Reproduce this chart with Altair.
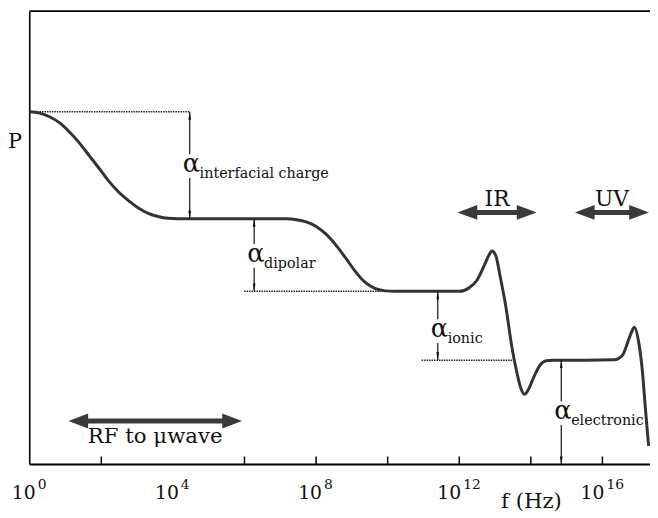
import altair as alt
import pandas as pd

# ---------------- data ----------------
# polarisation curve: log10(frequency / Hz) and P (arbitrary units, 0..100)
curve_logf = [0.0, 0.276, 0.552, 0.828, 1.104, 1.380, 1.656, 1.932, 2.208, 2.483,
              2.759, 3.035, 3.311, 3.587, 3.863, 4.139, 5.5, 7.174,
              7.450, 7.726, 8.002, 8.278, 8.554, 8.830, 9.106, 9.382, 9.658, 9.934,
              10.21, 11.0, 12.003, 12.279, 12.500, 12.693, 12.831, 12.914, 13.024,
              13.135, 13.300, 13.466, 13.604, 13.714, 13.825, 13.935, 14.101, 14.266,
              14.432, 14.625, 15.5, 16.33, 16.56, 16.74, 16.83, 16.89, 17.01, 17.11,
              17.20, 17.29]
curve_P = [77.8, 77.5, 76.7, 75.4, 73.4, 71.0, 68.2, 65.4, 62.5, 60.1,
           58.2, 56.6, 55.4, 54.7, 54.3, 54.2, 54.2, 54.2,
           54.0, 53.5, 52.5, 50.8, 48.4, 45.5, 42.5, 40.1, 38.8, 38.3,
           38.2, 38.2, 38.2, 39.0, 40.7, 43.8, 46.2, 47.1, 46.0,
           41.8, 34.9, 26.1, 20.5, 17.0, 15.5, 16.6, 19.6, 22.0,
           22.9, 23.0, 23.0, 23.1, 24.1, 27.7, 29.5, 30.3, 27.1, 21.1,
           12.4, 4.1]

# polarisability contributions (vertical double arrows)
alpha_names = ["interfacial charge", "dipolar", "ionic", "electronic"]
alpha_logf = [4.47, 6.27, 11.40, 14.85]
alpha_top = [77.8, 54.2, 38.2, 23.0]
alpha_bottom = [54.2, 38.2, 23.0, 0.0]
alpha_label_P = [64.5, 44.7, 28.1, 10.0]

# dotted reference levels
dotted_start = [0.0, 5.99, 10.95]
dotted_end = [4.47, 9.80, 13.52]
dotted_P = [77.8, 38.2, 23.0]

# frequency bands (thick double arrows)
band_names = ["RF to \u03bcwave", "IR", "UV"]
band_lo = [1.08, 11.95, 15.23]
band_hi = [5.93, 14.16, 17.30]
band_P = [9.6, 55.6, 55.6]
band_text_pos = ["below", "above", "above"]

# axis ticks and labels
tick_logf = [2, 6, 8, 10, 12, 14, 16]
label_exp = [0, 4, 8, 12, 16]

# ---------------- tables ----------------
curve = pd.DataFrame({"f": [10 ** v for v in curve_logf], "P": curve_P})
alphas = pd.DataFrame({
    "name": alpha_names,
    "f": [10 ** v for v in alpha_logf],
    "top": alpha_top, "bottom": alpha_bottom, "lab": alpha_label_P,
    "alpha": ["\u03b1"] * len(alpha_names),
})
dotted = pd.DataFrame({"f1": [10 ** v for v in dotted_start],
                       "f2": [10 ** v for v in dotted_end], "P": dotted_P})
bands = pd.DataFrame({"name": band_names,
                      "f1": [10 ** v for v in band_lo],
                      "f2": [10 ** v for v in band_hi],
                      "fm": [10 ** ((a + b) / 2) for a, b in zip(band_lo, band_hi)],
                      "P": band_P, "pos": band_text_pos})
ticks = pd.DataFrame({"f": [10 ** v for v in tick_logf]})
labels = pd.DataFrame({"f": [10 ** v for v in label_exp],
                       "base": ["10"] * len(label_exp),
                       "exp": [str(v) for v in label_exp],
                       "nd": [len(str(v)) for v in label_exp]})
dummy = pd.DataFrame({"a": [0]})

# ---------------- styling ----------------
W, H = 628, 459
FONT = "DejaVu Serif"
INK = "#111111"
CURVE = "#333333"
BAND = "#3a3a3a"

xs = alt.Scale(type="log", domain=[1, 10 ** (W / 36.24)], nice=False, zero=False)
ys = alt.Scale(domain=[0, 100], nice=False, zero=False)


def X(field):
    return alt.X(f"{field}:Q", scale=xs, axis=None)


def Y(field):
    return alt.Y(f"{field}:Q", scale=ys, axis=None)


HEAD_UP = "M0,0L0.35,2L-0.35,2Z"
HEAD_DOWN = "M0,0L0.35,-2L-0.35,-2Z"
HEAD_LEFT = "M0,0L2,-0.75L2,0.75Z"
HEAD_RIGHT = "M0,0L-2,-0.75L-2,0.75Z"

layers = []

# frame: top, left, bottom
layers.append(alt.Chart(dummy).mark_rule(color="black", strokeWidth=1.6).encode(
    x=alt.value(0), x2=alt.value(W), y=alt.value(0)))
layers.append(alt.Chart(dummy).mark_rule(color="black", strokeWidth=1.6).encode(
    x=alt.value(0), y=alt.value(0), y2=alt.value(H)))
layers.append(alt.Chart(dummy).mark_rule(color="black", strokeWidth=1.8).encode(
    x=alt.value(0), x2=alt.value(W), y=alt.value(H)))

# ticks (inward)
layers.append(alt.Chart(ticks).mark_rule(color="black", strokeWidth=1.5).encode(
    x=X("f"), y=alt.value(H), y2=alt.value(H - 8)))

# tick labels: 10 with superscript exponent
one = alt.Chart(labels).transform_filter("datum.nd == 1")
two = alt.Chart(labels).transform_filter("datum.nd == 2")
for base_chart, dx_base, dx_exp in [(one, 6, 8), (two, 2, 4)]:
    layers.append(base_chart.mark_text(font=FONT, fontSize=19, color=INK, align="right",
                                       baseline="alphabetic", dx=dx_base).encode(
        x=X("f"), y=alt.value(H + 35), text="base:N"))
    layers.append(base_chart.mark_text(font=FONT, fontSize=14, color=INK, align="left",
                                       baseline="alphabetic", dx=dx_exp).encode(
        x=X("f"), y=alt.value(H + 25), text="exp:N"))

# axis titles
layers.append(alt.Chart(dummy).mark_text(font=FONT, fontSize=21.5, color=INK, align="center",
                                         baseline="alphabetic").encode(
    x=alt.value(508), y=alt.value(H + 44), text=alt.value("f (Hz)")))
layers.append(alt.Chart(dummy).mark_text(font=FONT, fontSize=21, color=INK, align="center",
                                         baseline="alphabetic").encode(
    x=alt.value(-15), y=alt.value(139), text=alt.value("P")))

# dotted levels
layers.append(alt.Chart(dotted).mark_rule(color="#222222", strokeWidth=1.6,
                                          strokeDash=[1.5, 1]).encode(
    x=X("f1"), x2="f2:Q", y=Y("P")))

# main curve
layers.append(alt.Chart(curve).mark_line(color=CURVE, strokeWidth=3,
                                         interpolate="monotone").encode(
    x=X("f"), y=Y("P")))

# vertical alpha arrows (split around the label)
layers.append(alt.Chart(alphas).mark_rule(color=INK, strokeWidth=1.2, y2Offset=-18).encode(
    x=X("f"), y=Y("top"), y2="lab:Q"))
layers.append(alt.Chart(alphas).mark_rule(color=INK, strokeWidth=1.2, yOffset=6).encode(
    x=X("f"), y=Y("lab"), y2="bottom:Q"))
layers.append(alt.Chart(alphas).mark_point(shape=HEAD_UP, filled=True, size=64, opacity=1,
                                           color=INK, strokeWidth=0).encode(
    x=X("f"), y=Y("top")))
layers.append(alt.Chart(alphas).mark_point(shape=HEAD_DOWN, filled=True, size=64, opacity=1,
                                           color=INK, strokeWidth=0).encode(
    x=X("f"), y=Y("bottom")))
layers.append(alt.Chart(alphas).mark_text(font=FONT, fontSize=26, color=INK, align="left",
                                          baseline="alphabetic", dx=-7).encode(
    x=X("f"), y=Y("lab"), text="alpha:N"))
layers.append(alt.Chart(alphas).mark_text(font=FONT, fontSize=14.5, color=INK, align="left",
                                          baseline="alphabetic", dx=10, dy=6).encode(
    x=X("f"), y=Y("lab"), text="name:N"))

# frequency band arrows
layers.append(alt.Chart(bands).mark_rule(color=BAND, strokeWidth=5,
                                         xOffset=10, x2Offset=-10).encode(
    x=X("f1"), x2="f2:Q", y=Y("P")))
layers.append(alt.Chart(bands).mark_point(shape=HEAD_LEFT, filled=True, size=400, opacity=1,
                                          color=BAND, strokeWidth=0).encode(
    x=X("f1"), y=Y("P")))
layers.append(alt.Chart(bands).mark_point(shape=HEAD_RIGHT, filled=True, size=400, opacity=1,
                                          color=BAND, strokeWidth=0).encode(
    x=X("f2"), y=Y("P")))
layers.append(alt.Chart(bands).transform_filter("datum.pos == 'above'").mark_text(
    font=FONT, fontSize=22, color=INK, align="center", baseline="alphabetic", dy=-7).encode(
    x=X("fm"), y=Y("P"), text="name:N"))
layers.append(alt.Chart(bands).transform_filter("datum.pos == 'below'").mark_text(
    font=FONT, fontSize=21.5, color=INK, align="center", baseline="alphabetic", dy=22).encode(
    x=X("fm"), y=Y("P"), text="name:N"))

chart = alt.layer(*layers).properties(
    width=W, height=H,
    autosize=alt.AutoSizeParams(type="none"),
    padding={"left": 22, "top": 0, "right": 0, "bottom": 51},
    background="white",
).configure_view(stroke=None)

chart.save("out.html", embed_options={"renderer": "svg", "actions": False})
